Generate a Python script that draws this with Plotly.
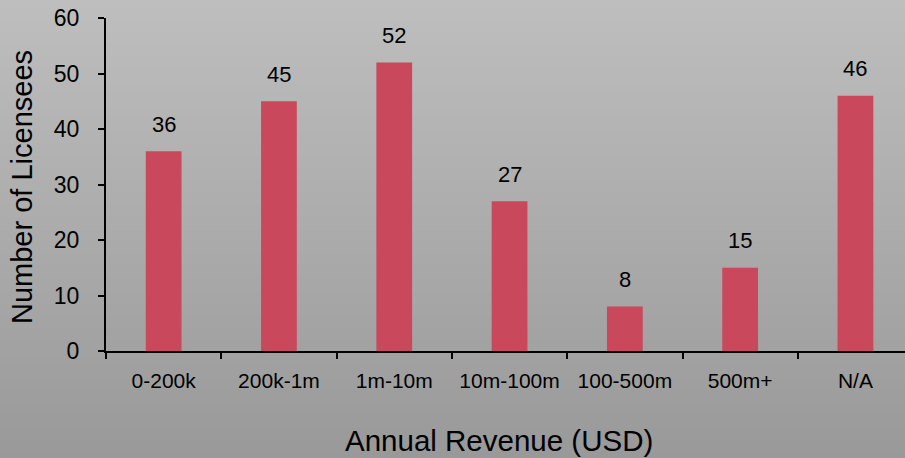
import plotly.graph_objects as go

# Licensee counts by annual revenue band
categories = ["0-200k", "200k-1m", "1m-10m", "10m-100m", "100-500m", "500m+", "N/A"]
licensees = [36, 45, 52, 27, 8, 15, 46]
y_ticks = [0, 10, 20, 30, 40, 50, 60]

W, H = 905, 458
ML, MR, MT, MB = 106, 0, 18, 107
PW, PH = W - ML - MR, H - MT - MB


def px_x(x):
    return (x - ML) / PW


def px_y(y):
    return 1 - (y - MT) / PH


FONT = "Liberation Sans, Arial, Helvetica, sans-serif"

fig = go.Figure(
    go.Bar(
        x=categories,
        y=licensees,
        width=0.31,
        marker=dict(color="#c9485b", line=dict(width=0)),
        hoverinfo="x+y",
    )
)

# vertical grey gradient behind everything (lighter at the top)
shapes = []
top, bottom = (190, 190, 190), (153, 153, 153)
step = 2
for y in range(0, H, step):
    t = y / (H - 1)
    c = tuple(round(a + (b - a) * t) for a, b in zip(top, bottom))
    shapes.append(dict(
        type="rect", xref="paper", yref="paper", layer="below",
        x0=px_x(-2), x1=px_x(W + 2), y0=px_y(y + step + 0.5), y1=px_y(y - 0.5),
        fillcolor="rgb(%d,%d,%d)" % c, line=dict(width=0),
    ))

# value labels above each bar
annotations = [
    dict(x=c, y=v, xref="x", yref="y", text=str(v), showarrow=False,
         yanchor="middle", yshift=27, font=dict(size=22, color="#000", family=FONT))
    for c, v in zip(categories, licensees)
]
annotations += [
    dict(x=px_x(499), y=px_y(441), xref="paper", yref="paper",
         text="Annual Revenue (USD)", showarrow=False,
         xanchor="center", yanchor="middle", font=dict(size=29.5, color="#000", family=FONT)),
    dict(x=px_x(22), y=px_y(187), xref="paper", yref="paper",
         text="Number of Licensees", showarrow=False, textangle=-90,
         xanchor="center", yanchor="middle", font=dict(size=29, color="#000", family=FONT)),
]

fig.update_layout(
    width=W, height=H,
    margin=dict(l=ML, r=MR, t=MT, b=MB, pad=0),
    paper_bgcolor="rgba(0,0,0,0)",
    plot_bgcolor="rgba(0,0,0,0)",
    showlegend=False,
    shapes=shapes,
    annotations=annotations,
    font=dict(family=FONT, color="#000"),
    xaxis=dict(
        type="category",
        range=[-0.5, -0.5 + PW / 115.3],
        showline=True, linecolor="#000", linewidth=2,
        ticks="outside", tickson="boundaries", ticklen=6, tickwidth=2, tickcolor="#000",
        tickfont=dict(size=21, color="#000", family=FONT),
        ticklabelstandoff=10,
        showgrid=False, zeroline=False, fixedrange=True,
    ),
    yaxis=dict(
        range=[0, 60],
        tickvals=y_ticks,
        showline=True, linecolor="#000", linewidth=2,
        ticks="outside", ticklen=6, tickwidth=2, tickcolor="#000",
        tickfont=dict(size=23, color="#000", family=FONT),
        ticklabelstandoff=14,
        showgrid=False, zeroline=False, fixedrange=True,
    ),
)

fig.write_html("out.html")
